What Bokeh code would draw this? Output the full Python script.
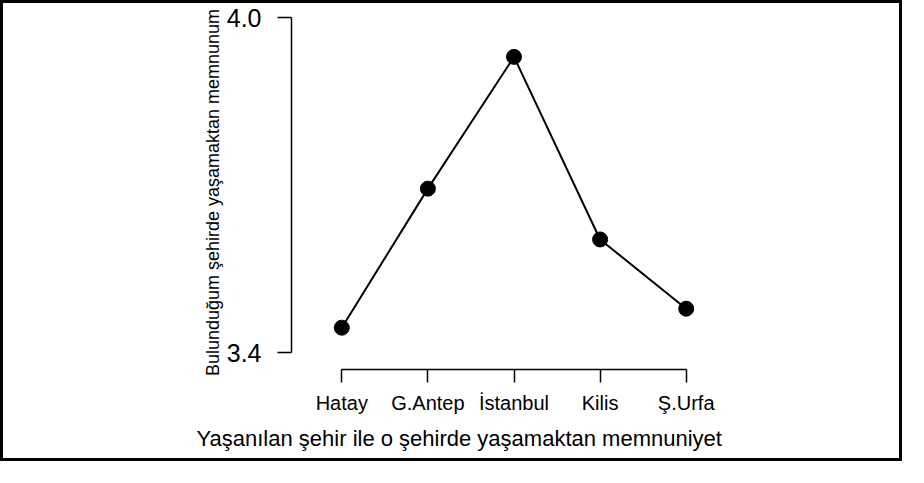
from bokeh.plotting import figure
from bokeh.models import FixedTicker, Title, PrintfTickFormatter
from bokeh.embed import file_html
from bokeh.resources import INLINE

# Data
cities = ["Hatay", "G.Antep", "İstanbul", "Kilis", "Ş.Urfa"]
satisfaction = [3.445, 3.694, 3.930, 3.603, 3.479]
y_ticks = [3.4, 4.0]
x_title = "Yaşanılan şehir ile o şehirde yaşamaktan memnuniyet"
y_title = "Bulunduğum şehirde yaşamaktan memnunum"

xs = list(range(len(cities)))
FONT = "Liberation Sans"

p = figure(width=902, height=461, output_backend="svg", toolbar_location=None,
           x_range=(-0.584, 4.584), y_range=(3.3701, 4.0041),
           min_border_left=288, min_border_right=169, min_border_top=12,
           min_border_bottom=95)
p.styles = {"border": "3px solid black"}
p.outline_line_color = None
p.xgrid.visible = False
p.ygrid.visible = False
p.background_fill_color = "white"
p.border_fill_color = "white"

p.line(xs, satisfaction, line_color="black", line_width=2)
p.scatter(xs, satisfaction, size=15, fill_color="black", line_color="black")

xa = p.xaxis[0]
xa.ticker = FixedTicker(ticks=xs)
xa.major_label_overrides = {i: c for i, c in enumerate(cities)}
xa.bounds = (xs[0], xs[-1])
xa.major_tick_out = 13
xa.major_tick_in = 0
xa.minor_tick_line_color = None
xa.axis_line_width = 1.5
xa.major_tick_line_width = 1.5
xa.axis_line_color = "black"
xa.major_tick_line_color = "black"
xa.major_label_text_font = FONT
xa.major_label_text_font_size = "20px"
xa.major_label_text_color = "black"
xa.major_label_standoff = 9

ya = p.yaxis[0]
ya.ticker = FixedTicker(ticks=y_ticks)
ya.formatter = PrintfTickFormatter(format="%.1f")
ya.bounds = (y_ticks[0], y_ticks[-1])
ya.major_tick_out = 14
ya.major_tick_in = 0
ya.minor_tick_line_color = None
ya.axis_line_width = 1.5
ya.major_tick_line_width = 1.5
ya.axis_line_color = "black"
ya.major_tick_line_color = "black"
ya.major_label_text_font = FONT
ya.major_label_text_font_size = "25px"
ya.major_label_text_color = "black"
ya.major_label_standoff = 16
ya.major_label_orientation = "horizontal"
ya.axis_label = y_title
ya.axis_label_text_font = FONT
ya.axis_label_text_font_size = "18px"
ya.axis_label_text_font_style = "normal"
ya.axis_label_text_color = "black"
ya.axis_label_standoff = 1

t = Title(text=x_title, align="left", offset=-95, text_font=FONT,
          text_font_size="22px", text_font_style="normal", text_color="black",
          standoff=14)
p.add_layout(t, "below")

open("out.html", "w").write(file_html(p, INLINE))
